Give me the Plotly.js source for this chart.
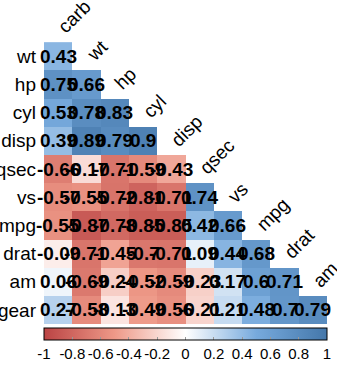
<!DOCTYPE html>
<html>
<head>
<meta charset="utf-8">
<script src="https://cdn.plot.ly/plotly-3.0.1.min.js"></script>
<style>
  html, body { margin: 0; padding: 0; background: #fff; }
  #chart { width: 337px; height: 377px; }
</style>
</head>
<body>
<div id="chart"></div>
<script>
// mtcars correlation matrix, lower triangle, clustered variable order
var varNames = ['carb', 'wt', 'hp', 'cyl', 'disp', 'qsec', 'vs', 'mpg', 'drat', 'am', 'gear'];

// each row holds correlations with the variables listed before it
var rowWt   = [0.43];
var rowHp   = [0.75, 0.66];
var rowCyl  = [0.53, 0.78, 0.83];
var rowDisp = [0.39, 0.89, 0.79, 0.90];
var rowQsec = [-0.66, -0.17, -0.71, -0.59, -0.43];
var rowVs   = [-0.57, -0.55, -0.72, -0.81, -0.71, 0.74];
var rowMpg  = [-0.55, -0.87, -0.78, -0.85, -0.85, 0.42, 0.66];
var rowDrat = [-0.09, -0.71, -0.45, -0.70, -0.71, 0.09, 0.44, 0.68];
var rowAm   = [0.06, -0.69, -0.24, -0.52, -0.59, -0.23, 0.17, 0.60, 0.71];
var rowGear = [0.27, -0.58, -0.13, -0.49, -0.56, -0.21, 0.21, 0.48, 0.70, 0.79];

var colorTicks = [-1, -0.8, -0.6, -0.4, -0.2, 0, 0.2, 0.4, 0.6, 0.8, 1];

var lowerRows = [rowWt, rowHp, rowCyl, rowDisp, rowQsec, rowVs, rowMpg, rowDrat, rowAm, rowGear];
var colNames = varNames.slice(0, 10);
var rowNames = varNames.slice(1);
var nCols = colNames.length;

var colIdx = [];
for (var c = 0; c < nCols; c++) colIdx.push(c);

// full grid, empty above the diagonal
var z = lowerRows.map(function (row) {
  var out = [];
  for (var c = 0; c < nCols; c++) out.push(c < row.length ? row[c] : null);
  return out;
});

var textFont = 'Liberation Sans, Arial, sans-serif';
var annotations = [];

// coefficient labels in each cell
lowerRows.forEach(function (row, r) {
  row.forEach(function (v, c) {
    annotations.push({
      x: c, y: r, xref: 'x', yref: 'y',
      text: String(v), showarrow: false,
      font: { family: textFont, size: 19, color: '#000', weight: 'bold' }
    });
  });
});

// rotated variable names along the diagonal
colNames.forEach(function (name, c) {
  annotations.push({
    x: c, y: c - 1, xref: 'x', yref: 'y',
    text: name, showarrow: false, textangle: -45,
    xanchor: 'left', yanchor: 'bottom', yshift: -12, xshift: -7,
    font: { family: textFont, size: 19, color: '#000' }
  });
});

var trace = {
  type: 'heatmap',
  x: colIdx,
  y: rowNames.map(function (_, i) { return i; }),
  z: z,
  zmin: -1, zmax: 1,
  hoverongaps: false,
  colorscale: [
    [0, '#BB4444'], [0.25, '#EE9988'], [0.5, '#FFFFFF'],
    [0.75, '#77AADD'], [1, '#4477AA']
  ],
  colorbar: {
    orientation: 'h',
    x: 0.5, xanchor: 'center', xref: 'paper',
    y: -0.013, yanchor: 'top', yref: 'paper',
    len: 1, lenmode: 'fraction',
    thickness: 12,
    xpad: 0, ypad: 0,
    outlinewidth: 1, outlinecolor: '#000',
    tickmode: 'array',
    tickvals: colorTicks,
    ticktext: colorTicks.map(String),
    ticks: 'inside', ticklen: 3, tickcolor: '#999', tickwidth: 1,
    tickfont: { family: textFont, size: 15, color: '#000' }
  }
};

var layout = {
  width: 337, height: 377,
  margin: { l: 44, r: 10, t: 14, b: 53, autoexpand: false },
  paper_bgcolor: '#fff', plot_bgcolor: '#fff',
  showlegend: false,
  xaxis: {
    range: [-0.5, nCols - 0.5],
    showgrid: false, zeroline: false, showline: false,
    showticklabels: false, ticks: ''
  },
  yaxis: {
    range: [rowNames.length - 0.5, -1.5],
    showgrid: false, zeroline: false, showline: false,
    tickmode: 'array',
    tickvals: rowNames.map(function (_, i) { return i; }),
    ticktext: rowNames,
    ticks: '', ticklabelstandoff: 7,
    tickfont: { family: textFont, size: 19, color: '#000' }
  },
  annotations: annotations
};

Plotly.newPlot('chart', [trace], layout, { displayModeBar: false, staticPlot: true });
</script>
</body>
</html>
